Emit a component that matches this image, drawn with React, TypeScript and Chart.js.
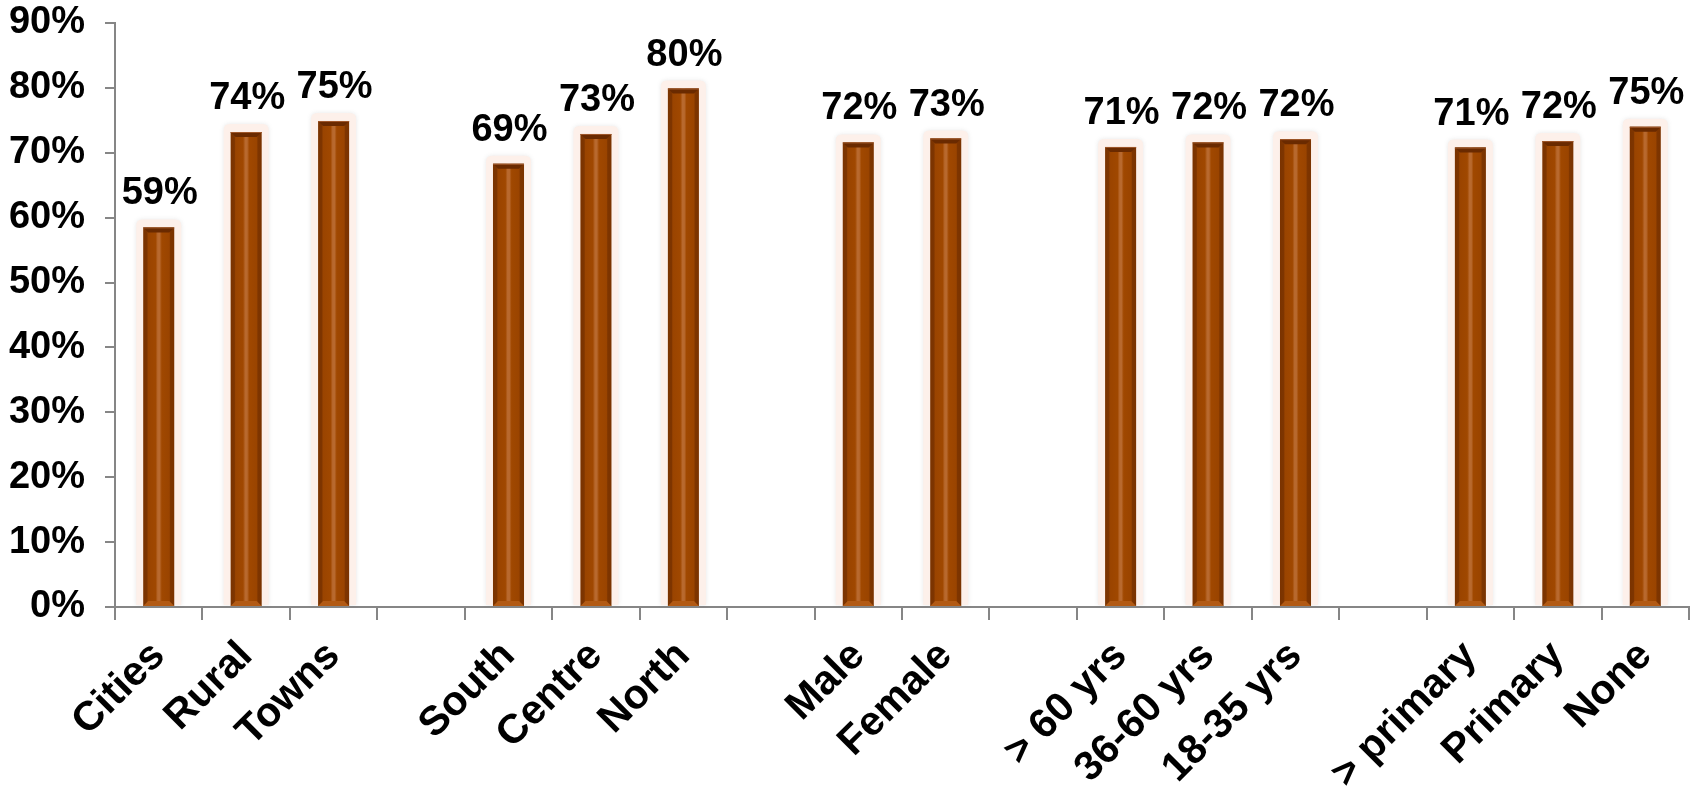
import React, { useEffect, useRef } from "react";
import { Chart, registerables } from "chart.js";

Chart.register(...registerables);

const categories = [
  "Cities", "Rural", "Towns", "",
  "South", "Centre", "North", "",
  "Male", "Female", "",
  "> 60 yrs", "36-60 yrs", "18-35 yrs", "",
  "> primary", "Primary", "None",
];
const values = [
  58.5, 73.2, 74.9, null,
  68.3, 72.9, 79.9, null,
  71.6, 72.2, null,
  70.9, 71.6, 72.1, null,
  70.8, 71.8, 74.0,
];
const valueLabels = [
  "59%", "74%", "75%", "",
  "69%", "73%", "80%", "",
  "72%", "73%", "",
  "71%", "72%", "72%", "",
  "71%", "72%", "75%",
];
const yMin = 0;
const yMax = 90;
const yStep = 10;

const FONT = "Arial, 'Liberation Sans', sans-serif";
const AXIS = "#868686";

function roundRect(ctx: CanvasRenderingContext2D, x: number, y: number, w: number, h: number, r: number) {
  ctx.beginPath();
  ctx.moveTo(x + r, y);
  ctx.lineTo(x + w - r, y);
  ctx.quadraticCurveTo(x + w, y, x + w, y + r);
  ctx.lineTo(x + w, y + h);
  ctx.lineTo(x, y + h);
  ctx.lineTo(x, y + r);
  ctx.quadraticCurveTo(x, y, x + r, y);
  ctx.closePath();
}

const barDecor = {
  id: "barDecor",
  beforeDatasetsDraw(chart: any) {
    const ctx = chart.ctx as CanvasRenderingContext2D;
    const meta = chart.getDatasetMeta(0);
    ctx.save();
    meta.data.forEach((el: any, i: number) => {
      if (values[i] == null) return;
      const { x, y, width, base } = el.getProps(["x", "y", "width", "base"], true);
      const g = 7;
      ctx.shadowColor = "rgba(120,120,120,0.18)";
      ctx.shadowBlur = 4;
      ctx.fillStyle = "#fdf0ea";
      roundRect(ctx, x - width / 2 - g, y - g - 1, width + 2 * g, base - y + g, 6);
      ctx.fill();
    });
    ctx.restore();
  },
  afterDatasetsDraw(chart: any) {
    const ctx = chart.ctx as CanvasRenderingContext2D;
    const meta = chart.getDatasetMeta(0);
    ctx.save();
    meta.data.forEach((el: any, i: number) => {
      if (values[i] == null) return;
      const { x, y, width, base } = el.getProps(["x", "y", "width", "base"], true);
      const l = x - width / 2;
      const r = x + width / 2;
      const b = 5;
      ctx.fillStyle = "#6a2a00";
      ctx.beginPath();
      ctx.moveTo(l, y);
      ctx.lineTo(r, y);
      ctx.lineTo(r - b, y + b);
      ctx.lineTo(l + b, y + b);
      ctx.closePath();
      ctx.fill();
      ctx.fillStyle = "#a0582a";
      ctx.fillRect(l, y, width, 1);
      ctx.fillStyle = "#b25a14";
      ctx.beginPath();
      ctx.moveTo(l, base);
      ctx.lineTo(r, base);
      ctx.lineTo(r - b, base - b);
      ctx.lineTo(l + b, base - b);
      ctx.closePath();
      ctx.fill();
      ctx.fillStyle = "#000";
      ctx.font = `bold 38px ${FONT}`;
      ctx.textAlign = "center";
      ctx.textBaseline = "alphabetic";
      ctx.fillText(valueLabels[i], x + 1, y - 23);
    });
    ctx.restore();
  },
};

export default function App() {
  const ref = useRef<HTMLCanvasElement | null>(null);

  useEffect(() => {
    document.body.style.margin = "0";
    const canvas = ref.current;
    if (!canvas) return;
    const chart = new Chart(canvas, {
      type: "bar",
      data: {
        labels: categories,
        datasets: [
          {
            data: values as any,
            backgroundColor: (c: any) => {
              const ch = c.chart;
              const xs = ch.scales.x;
              if (!xs || !ch.chartArea) return "#9a4400";
              const cx = xs.getPixelForValue(c.dataIndex);
              const w = 31;
              const gr = ch.ctx.createLinearGradient(cx - w / 2, 0, cx + w / 2, 0);
              gr.addColorStop(0, "#7a3300");
              gr.addColorStop(0.12, "#7e3500");
              gr.addColorStop(0.16, "#9a4400");
              gr.addColorStop(0.4, "#a04800");
              gr.addColorStop(0.47, "#b8692e");
              gr.addColorStop(0.53, "#b8692e");
              gr.addColorStop(0.6, "#a04800");
              gr.addColorStop(0.84, "#9a4400");
              gr.addColorStop(0.88, "#7e3500");
              gr.addColorStop(1, "#7a3300");
              return gr;
            },
            borderWidth: 0,
            barPercentage: 0.355,
            categoryPercentage: 1,
          },
        ],
      },
      options: {
        animation: false,
        responsive: true,
        maintainAspectRatio: false,
        layout: { padding: { top: 23, right: 7, left: 0, bottom: 0 } },
        plugins: {
          legend: { display: false },
          tooltip: { enabled: false },
        },
        scales: {
          y: {
            min: yMin,
            max: yMax,
            afterFit: (s: any) => {
              s.width = 115;
              s.paddingTop = 0;
              s.paddingBottom = 0;
            },
            ticks: {
              stepSize: yStep,
              padding: 20,
              color: "#000",
              font: { family: FONT, size: 38, weight: "bold" },
              callback: (v: any) => `${v}%`,
            },
            grid: {
              drawOnChartArea: false,
              drawTicks: true,
              tickLength: 10,
              color: AXIS,
              lineWidth: 2,
            },
            border: { display: true, color: AXIS, width: 2 },
          },
          x: {
            afterFit: (s: any) => {
              s.height = 188;
              s.paddingLeft = 0;
              s.paddingRight = 0;
            },
            ticks: {
              autoSkip: false,
              minRotation: 45,
              maxRotation: 45,
              padding: 12,
              color: "#000",
              font: { family: FONT, size: 41, weight: "bold" },
            },
            grid: {
              offset: true,
              drawOnChartArea: false,
              drawTicks: true,
              tickLength: 13,
              color: AXIS,
              lineWidth: 2,
            },
            border: { display: true, color: AXIS, width: 2 },
          },
        },
      },
      plugins: [barDecor],
    });
    return () => chart.destroy();
  }, []);

  return (
    <div style={{ position: "relative", width: "1696px", height: "795px" }}>
      <canvas ref={ref} />
    </div>
  );
}
